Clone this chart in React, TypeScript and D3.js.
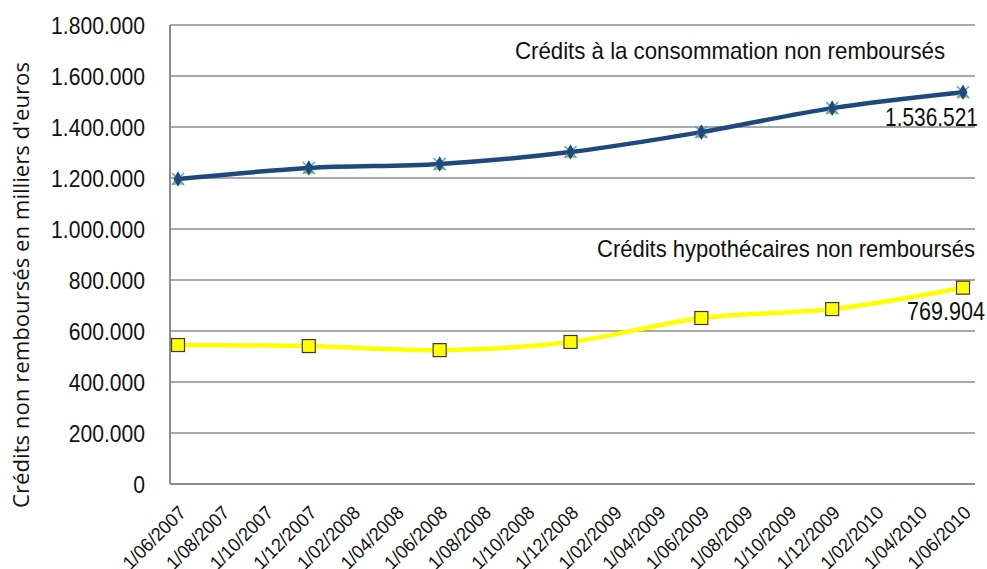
import React, { useEffect, useRef } from "react";
import * as d3 from "d3";

const tickDates = [
  "1/06/2007", "1/08/2007", "1/10/2007", "1/12/2007", "1/02/2008", "1/04/2008",
  "1/06/2008", "1/08/2008", "1/10/2008", "1/12/2008", "1/02/2009", "1/04/2009",
  "1/06/2009", "1/08/2009", "1/10/2009", "1/12/2009", "1/02/2010", "1/04/2010",
  "1/06/2010",
];
const pointDates = ["1/06/2007", "1/12/2007", "1/06/2008", "1/12/2008", "1/06/2009", "1/12/2009", "1/06/2010"];
const consommation = [1196000, 1239000, 1255000, 1302000, 1380000, 1474000, 1536521];
const hypothecaires = [545000, 541000, 525000, 557000, 651000, 686000, 769904];
const yTicks = [0, 200000, 400000, 600000, 800000, 1000000, 1200000, 1400000, 1600000, 1800000];

const W = 987;
const H = 569;
const sans = "'Liberation Sans', Arial, sans-serif";

const fmt = (v: number) => (v === 0 ? "0" : d3.format(",")(v).replace(/,/g, "."));

export default function App() {
  const ref = useRef<SVGSVGElement>(null);

  useEffect(() => {
    const svg = d3.select(ref.current);
    svg.selectAll("*").remove();

    const left = 170, right = 975, top = 25, bottom = 484;

    const x = d3.scalePoint<string>().domain(tickDates).range([178, 963]);
    const y = d3.scaleLinear().domain([0, 1800000]).range([bottom, top]);

    // gridlines
    svg.append("g")
      .selectAll("line")
      .data(yTicks.filter(d => d > 0))
      .join("line")
      .attr("x1", left).attr("x2", right)
      .attr("y1", d => y(d)).attr("y2", d => y(d))
      .attr("stroke", "#8c8c8c").attr("stroke-width", 1.3);

    // axes
    svg.append("line").attr("x1", left).attr("x2", left).attr("y1", top).attr("y2", bottom)
      .attr("stroke", "#8c8c8c").attr("stroke-width", 2);
    svg.append("line").attr("x1", left).attr("x2", right).attr("y1", bottom).attr("y2", bottom)
      .attr("stroke", "#8c8c8c").attr("stroke-width", 2);

    // y tick labels (narrowed)
    svg.append("g")
      .selectAll("text")
      .data(yTicks)
      .join("text")
      .attr("transform", d => `translate(145,${y(d) + 8.5}) scale(0.88,1)`)
      .attr("text-anchor", "end")
      .attr("font-family", sans).attr("font-size", 24)
      .attr("fill", "#111")
      .text(d => fmt(d));

    // x tick labels
    svg.append("g")
      .selectAll("text")
      .data(tickDates)
      .join("text")
      .attr("transform", d => `translate(${(x(d) as number) + 9},${514}) rotate(-45)`)
      .attr("text-anchor", "end")
      .attr("font-family", sans).attr("font-size", 19)
      .attr("textLength", 80).attr("lengthAdjust", "spacingAndGlyphs")
      .attr("fill", "#111")
      .text(d => d);

    // y title
    svg.append("text")
      .attr("transform", `translate(29,${285}) rotate(-90)`)
      .attr("text-anchor", "middle")
      .attr("font-family", "'Open Sans', sans-serif").attr("font-size", 21)
      .attr("textLength", 446).attr("lengthAdjust", "spacingAndGlyphs")
      .attr("fill", "#111")
      .text("Crédits non remboursés en milliers d'euros");

    const line = d3.line<number>()
      .x((_, i) => x(pointDates[i]) as number)
      .y(d => y(d))
      .curve(d3.curveCatmullRom.alpha(0.5));

    // yellow series
    svg.append("path").datum(hypothecaires).attr("d", line)
      .attr("fill", "none").attr("stroke", "#ffff00").attr("stroke-width", 4.5);
    svg.append("g")
      .selectAll("rect")
      .data(hypothecaires)
      .join("rect")
      .attr("x", (_, i) => (x(pointDates[i]) as number) - 6.5)
      .attr("y", d => y(d) - 6.5)
      .attr("width", 13).attr("height", 13)
      .attr("fill", "#ffff00").attr("stroke", "#3a3a2a").attr("stroke-width", 1.2);

    // blue series
    svg.append("path").datum(consommation).attr("d", line)
      .attr("fill", "none").attr("stroke", "#1f497d").attr("stroke-width", 4.5);
    const mk = svg.append("g")
      .selectAll("g")
      .data(consommation)
      .join("g")
      .attr("transform", (d, i) => `translate(${x(pointDates[i])},${y(d)})`);
    mk.append("path")
      .attr("d", d3.symbol(d3.symbolTriangle, 70)())
      .attr("transform", "translate(0,2)")
      .attr("fill", "#9bbb59");
    mk.append("path")
      .attr("d", "M-6,-6L6,6M6,-6L-6,6")
      .attr("stroke", "#4bacc6").attr("stroke-width", 1.5);
    mk.append("path")
      .attr("d", d3.symbol(d3.symbolDiamond, 70)())
      .attr("fill", "#1f497d");

    // annotations
    const note = (tx: number, ty: number, s: string, size: number, len: number, anchor = "start") =>
      svg.append("text").attr("x", tx).attr("y", ty)
        .attr("text-anchor", anchor)
        .attr("font-family", sans).attr("font-size", size)
        .attr("textLength", len).attr("lengthAdjust", "spacingAndGlyphs")
        .attr("fill", "#111").text(s);
    note(515, 59, "Crédits à la consommation non remboursés", 24, 430);
    note(597, 257, "Crédits hypothécaires non remboursés", 24, 378);
    note(885, 126, fmt(consommation[consommation.length - 1]), 26, 93);
    note(907, 320, fmt(hypothecaires[hypothecaires.length - 1]), 26, 78);
  }, []);

  return (
    <div style={{ position: "absolute", left: 0, top: 0 }}>
      <svg ref={ref} width={W} height={H} style={{ display: "block", background: "#fff" }} />
    </div>
  );
}
